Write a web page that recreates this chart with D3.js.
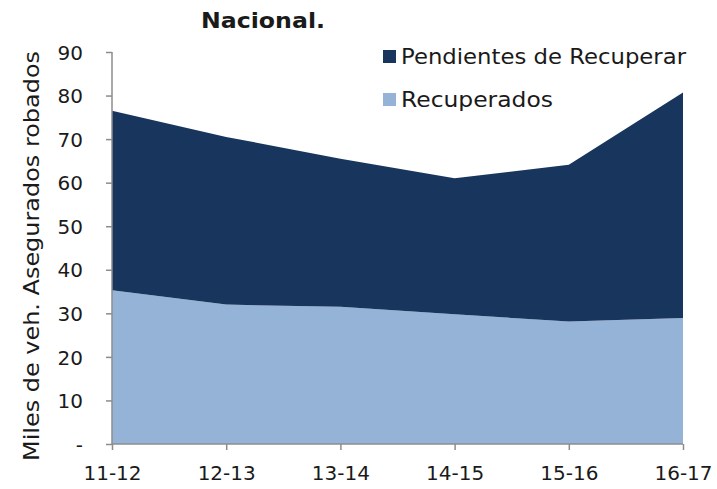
<!DOCTYPE html>
<html lang="es">
<head>
<meta charset="UTF-8"/>
<title>Nacional</title>
<script src="https://d3js.org/d3.v7.min.js"></script>
<style>
  body { margin: 0; background: #fff; }
  text { font-family: "DejaVu Sans", sans-serif; fill: #1a1a1a; }
  .axis path, .axis line { stroke: #8c8c8c; stroke-width: 1.5px; fill: none; }
</style>
</head>
<body>
<div id="chart"></div>
<script>
// data (miles de vehiculos)
var periods = ["11-12", "12-13", "13-14", "14-15", "15-16", "16-17"];
var recuperados = [35.3, 32.0, 31.5, 29.8, 28.1, 28.9];
var pendientes = [41.2, 38.5, 34.0, 31.2, 36.0, 51.8];
var yTicks = [0, 10, 20, 30, 40, 50, 60, 70, 80, 90];
var seriesNames = ["Pendientes de Recuperar", "Recuperados"];
var colors = { "Recuperados": "#95b3d7", "Pendientes de Recuperar": "#18365d" };

var W = 717, H = 489;
var margin = { top: 52, right: 34, bottom: 45, left: 112 };
var width = W - margin.left - margin.right,
    height = H - margin.top - margin.bottom;

var svg = d3.select("#chart").append("svg")
    .attr("width", W).attr("height", H);
var g = svg.append("g")
    .attr("transform", "translate(" + margin.left + "," + margin.top + ")");

var rows = periods.map(function(p, i) {
  return { period: p, "Recuperados": recuperados[i], "Pendientes de Recuperar": pendientes[i] };
});
var stack = d3.stack().keys(["Recuperados", "Pendientes de Recuperar"]);
var layers = stack(rows);

var x = d3.scalePoint().domain(periods).range([0, width]);
var y = d3.scaleLinear().domain([0, 90]).range([height, 0]);

var area = d3.area()
    .x(function(d) { return x(d.data.period); })
    .y0(function(d) { return y(d[0]); })
    .y1(function(d) { return y(d[1]); });

g.selectAll(".layer")
  .data(layers)
  .enter().append("path")
    .attr("class", "layer")
    .attr("d", area)
    .attr("fill", function(d) { return colors[d.key]; });

// axes
var yAxis = g.append("g").attr("class", "axis")
  .call(d3.axisLeft(y).tickValues(yTicks).tickSize(6).tickSizeOuter(0)
    .tickFormat(function(d) { return d === 0 ? "-" : d; }));
yAxis.selectAll("text").attr("x", -29).style("font-size", "20px").attr("dy", "0.36em");

var xAxis = g.append("g").attr("class", "axis")
  .attr("transform", "translate(0," + height + ")")
  .call(d3.axisBottom(x).tickSize(6).tickSizeOuter(0));
xAxis.selectAll("text").attr("y", 22).style("font-size", "20px");
xAxis.select(".domain").attr("d", "M0,0H" + width);
yAxis.select(".domain").attr("d", "M0,0V" + height);

// title
svg.append("text")
  .attr("x", 263).attr("y", 28)
  .attr("text-anchor", "middle")
  .style("font-size", "21px").style("font-weight", "bold")
  .attr("textLength", 124).attr("lengthAdjust", "spacingAndGlyphs")
  .text("Nacional.");

// y label
svg.append("text")
  .attr("transform", "translate(39," + (margin.top + height / 2 + 8) + ") rotate(-90)")
  .attr("text-anchor", "middle")
  .style("font-size", "21px")
  .attr("textLength", 410).attr("lengthAdjust", "spacingAndGlyphs")
  .text("Miles de veh. Asegurados robados");

// legend
var legendWidths = [285, 152];
var legend = svg.selectAll(".legend")
  .data(seriesNames)
  .enter().append("g")
    .attr("class", "legend")
    .attr("transform", function(d, i) { return "translate(383," + (50 + i * 43) + ")"; });
legend.append("rect")
  .attr("width", 13).attr("height", 13)
  .attr("fill", function(d) { return colors[d]; });
legend.append("text")
  .attr("x", 18).attr("y", 14)
  .style("font-size", "21px")
  .attr("textLength", function(d, i) { return legendWidths[i]; })
  .attr("lengthAdjust", "spacingAndGlyphs")
  .text(function(d) { return d; });
</script>
</body>
</html>
